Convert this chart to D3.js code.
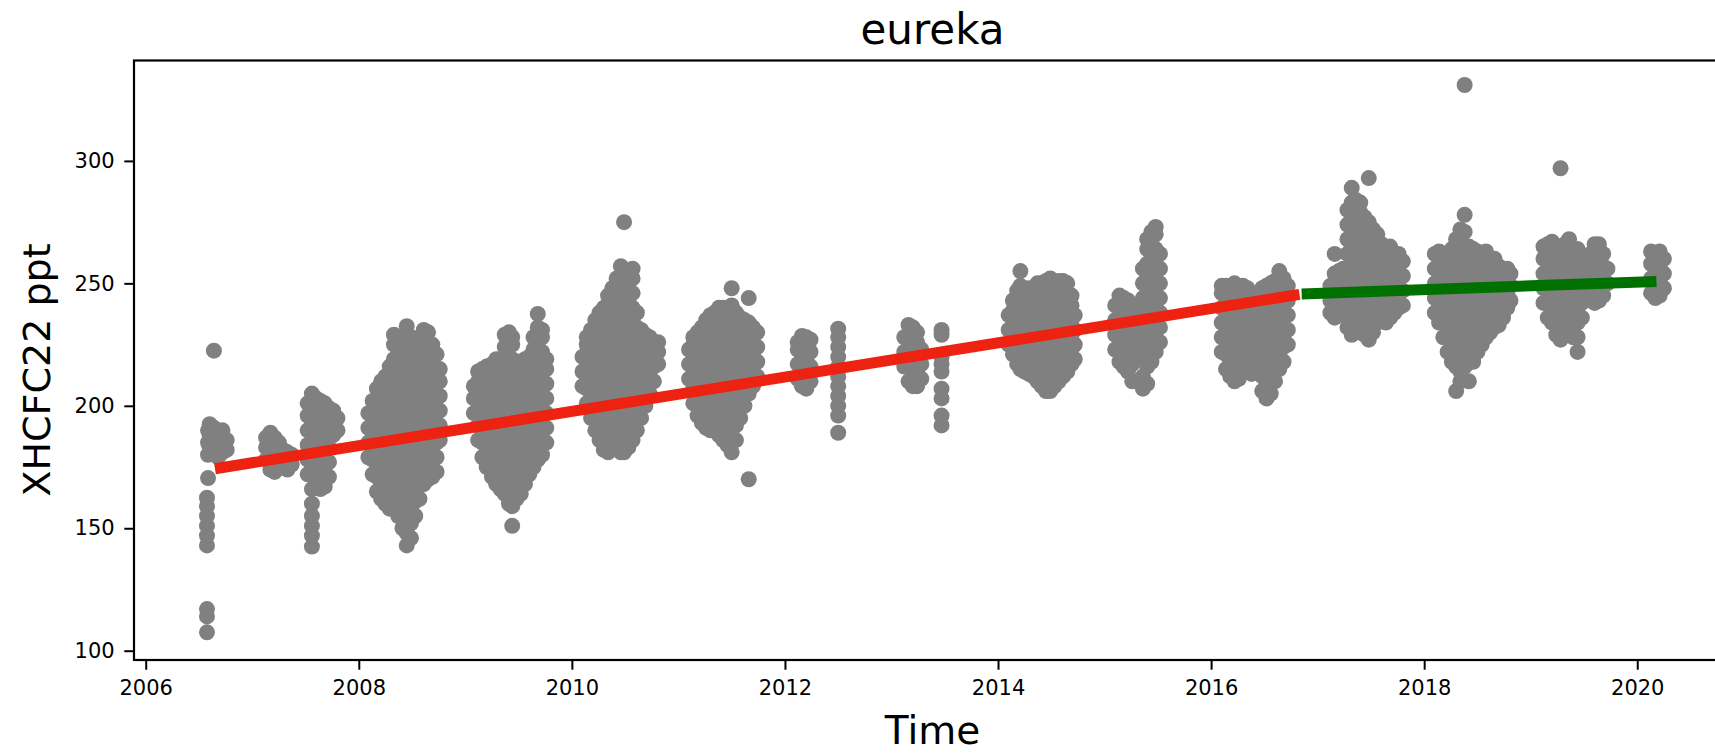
<!DOCTYPE html>
<html>
<head>
<meta charset="utf-8">
<script src="https://cdn.jsdelivr.net/npm/d3@7"></script>
<style>
  body { margin: 0; background: #fff; }
  svg { display: block; }
  text { font-family: "DejaVu Sans", sans-serif; fill: #000; }
</style>
</head>
<body>
<svg id="chart" width="1715" height="754"></svg>
<script>
// XHCFC22 column retrievals at Eureka, grouped by observing season.
// Each entry: [decimal year, [retrieved values in ppt]]
const season2006 = [
  [2006.575, [107.5, 114, 117, 143, 147, 151, 155, 159, 162.5]],
  [2006.585, [170.5, 180, 185, 190]],
  [2006.60, [183, 188, 192.5]],
  [2006.64, [222.5, 181, 186, 191]],
  [2006.68, [179, 184, 188]],
  [2006.72, [181, 186, 190]],
  [2006.76, [182, 186]]
];
const season2007 = [
  [2007.13, [178, 183, 187]],
  [2007.17, [174, 179, 184, 189]],
  [2007.21, [173, 178, 183, 187]],
  [2007.25, [176, 180, 185]],
  [2007.29, [175, 179, 182]],
  [2007.33, [174, 178, 181]],
  [2007.37, [176, 180]],
  [2007.52, [172, 178, 184, 190, 196, 201]],
  [2007.56, [142.5, 147, 151, 155, 160, 166, 172, 178, 184, 190, 196, 202, 205]],
  [2007.60, [168, 174, 180, 186, 192, 198, 203]],
  [2007.64, [166, 172, 178, 184, 190, 196, 202]],
  [2007.68, [167, 173, 179, 185, 191, 197, 201]],
  [2007.72, [171, 177, 183, 189, 195, 199]],
  [2007.76, [188, 193, 198]],
  [2007.80, [190, 195]]
];
const season2008 = [
  [2008.09, [179, 185, 191, 197]],
  [2008.13, [172, 178, 184, 190, 196, 202]],
  [2008.17, [165, 171, 177, 183, 189, 195, 201, 207]],
  [2008.21, [162, 168, 174, 180, 186, 192, 198, 204, 210]],
  [2008.25, [160, 166, 172, 178, 184, 190, 196, 202, 208, 212]],
  [2008.29, [158, 164, 170, 176, 182, 188, 194, 200, 206, 212, 216]],
  [2008.33, [159, 165, 171, 177, 183, 189, 195, 201, 207, 213, 219, 225, 229]],
  [2008.37, [155, 161, 167, 173, 179, 185, 191, 197, 203, 209, 215, 221, 226]],
  [2008.41, [150, 156, 162, 168, 174, 180, 186, 192, 198, 204, 210, 216, 222, 228]],
  [2008.45, [143, 148, 154, 160, 166, 172, 178, 184, 190, 196, 202, 208, 214, 220, 226, 232.5]],
  [2008.49, [146, 152, 158, 164, 170, 176, 182, 188, 194, 200, 206, 212, 218, 224, 228]],
  [2008.53, [155, 161, 167, 173, 179, 185, 191, 197, 203, 209, 215, 221, 225]],
  [2008.57, [162, 168, 174, 180, 186, 192, 198, 204, 210, 216, 222, 228]],
  [2008.61, [168, 174, 180, 186, 192, 198, 204, 210, 216, 222, 228, 231]],
  [2008.65, [170, 176, 182, 188, 194, 200, 206, 212, 218, 224, 230]],
  [2008.69, [171, 177, 183, 189, 195, 201, 207, 213, 219, 225]],
  [2008.73, [173, 179, 185, 191, 197, 203, 209, 215, 221]],
  [2008.76, [186, 192, 198, 204, 210, 215]]
];
const season2009 = [
  [2009.08, [197, 203, 208]],
  [2009.12, [186, 192, 198, 204, 210, 214]],
  [2009.16, [179, 185, 191, 197, 203, 209, 215]],
  [2009.20, [175, 181, 187, 193, 199, 205, 211, 216]],
  [2009.25, [171, 177, 183, 189, 195, 201, 207, 213, 217]],
  [2009.29, [168, 174, 180, 186, 192, 198, 204, 210, 216, 219]],
  [2009.33, [166, 172, 178, 184, 190, 196, 202, 208, 214, 219]],
  [2009.37, [164, 170, 176, 182, 188, 194, 200, 206, 212, 218, 224, 229]],
  [2009.41, [160, 166, 172, 178, 184, 190, 196, 202, 208, 214, 220, 226, 230]],
  [2009.44, [151, 159, 165, 171, 177, 183, 189, 195, 201, 207, 213, 219, 225, 228]],
  [2009.48, [162, 168, 174, 180, 186, 192, 198, 204, 210, 216, 218]],
  [2009.52, [164, 170, 176, 182, 188, 194, 200, 206, 212, 218]],
  [2009.56, [168, 174, 180, 186, 192, 198, 204, 210, 216, 219]],
  [2009.60, [172, 178, 184, 190, 196, 202, 208, 214, 220]],
  [2009.64, [175, 181, 187, 193, 199, 205, 211, 217, 223, 228]],
  [2009.68, [178, 184, 190, 196, 202, 208, 214, 220, 226, 232, 237.5]],
  [2009.72, [180, 186, 192, 198, 204, 210, 216, 222, 228, 231]],
  [2009.76, [185, 191, 197, 203, 209, 215, 219]]
];
const season2010 = [
  [2010.10, [208, 214, 220]],
  [2010.14, [201, 207, 213, 219, 225, 228]],
  [2010.18, [195, 201, 207, 213, 219, 225, 231]],
  [2010.22, [190, 196, 202, 208, 214, 220, 226, 232, 235]],
  [2010.26, [186, 192, 198, 204, 210, 216, 222, 228, 234, 238]],
  [2010.30, [182, 188, 194, 200, 206, 212, 218, 224, 230, 236, 240]],
  [2010.34, [181, 187, 193, 199, 205, 211, 217, 223, 229, 235, 241, 245]],
  [2010.38, [183, 189, 195, 201, 207, 213, 219, 225, 231, 237, 243, 248]],
  [2010.42, [183, 189, 195, 201, 207, 213, 219, 225, 231, 237, 243, 249, 252]],
  [2010.46, [181, 187, 193, 199, 205, 211, 217, 223, 229, 235, 241, 247, 253, 257]],
  [2010.49, [275, 181, 187, 193, 199, 205, 211, 217, 223, 229, 235, 241, 247, 252]],
  [2010.53, [183, 189, 195, 201, 207, 213, 219, 225, 231, 237, 243, 249, 254]],
  [2010.57, [186, 192, 198, 204, 210, 216, 222, 228, 234, 240, 246, 252, 256]],
  [2010.61, [190, 196, 202, 208, 214, 220, 226, 232, 238]],
  [2010.65, [195, 201, 207, 213, 219, 225, 231]],
  [2010.69, [200, 206, 212, 218, 224, 229]],
  [2010.73, [205, 211, 217, 223, 228]],
  [2010.77, [210, 216, 222, 226]],
  [2010.81, [217, 222, 226]]
];
const season2011 = [
  [2011.10, [211, 217, 223]],
  [2011.14, [201, 207, 213, 219, 225, 228]],
  [2011.18, [196, 202, 208, 214, 220, 226, 230]],
  [2011.22, [193, 199, 205, 211, 217, 223, 229, 232]],
  [2011.26, [191, 197, 203, 209, 215, 221, 227, 233, 235]],
  [2011.30, [190, 196, 202, 208, 214, 220, 226, 232, 237]],
  [2011.34, [190, 196, 202, 208, 214, 220, 226, 232, 238]],
  [2011.38, [188, 194, 200, 206, 212, 218, 224, 230, 236, 240]],
  [2011.42, [186, 192, 198, 204, 210, 216, 222, 228, 234, 240]],
  [2011.46, [184, 190, 196, 202, 208, 214, 220, 226, 232, 238]],
  [2011.50, [181, 187, 193, 199, 205, 211, 217, 223, 229, 235, 241, 248]],
  [2011.54, [186, 192, 198, 204, 210, 216, 222, 228, 234, 238]],
  [2011.58, [195, 201, 207, 213, 219, 225, 231, 236]],
  [2011.62, [200, 206, 212, 218, 224, 230, 235]],
  [2011.66, [170, 205, 211, 217, 223, 229, 234, 244]],
  [2011.70, [208, 214, 220, 226, 232]],
  [2011.74, [212, 218, 224, 230]]
];
const season2012 = [
  [2012.12, [211, 217, 223, 226]],
  [2012.16, [208, 214, 220, 226, 228.5]],
  [2012.20, [207, 213, 219, 225, 228]],
  [2012.24, [210, 216, 222, 227]],
  [2012.50, [189, 196, 200, 204, 208, 212, 216, 220, 224, 228, 231.5]]
];
const season2013 = [
  [2013.12, [216, 222, 228]],
  [2013.16, [210, 216, 222, 228, 233]],
  [2013.20, [208, 214, 220, 226, 232]],
  [2013.24, [208, 214, 220, 226, 230]],
  [2013.28, [211, 217, 223]],
  [2013.47, [192, 196, 203, 207, 214, 217, 220, 229, 231]]
];
const season2014 = [
  [2014.10, [225, 231, 237]],
  [2014.14, [221, 227, 233, 239, 243]],
  [2014.18, [217, 223, 229, 235, 241, 247]],
  [2014.21, [215, 221, 227, 233, 239, 245, 249, 255]],
  [2014.25, [214, 220, 226, 232, 238, 244, 247]],
  [2014.29, [213, 219, 225, 231, 237, 243, 248]],
  [2014.33, [212, 218, 224, 230, 236, 242, 248]],
  [2014.37, [210, 216, 222, 228, 234, 240, 246, 250]],
  [2014.41, [208, 214, 220, 226, 232, 238, 244, 250]],
  [2014.45, [206, 212, 218, 224, 230, 236, 242, 248, 251]],
  [2014.49, [206, 212, 218, 224, 230, 236, 242, 248, 252]],
  [2014.53, [208, 214, 220, 226, 232, 238, 244, 250]],
  [2014.57, [210, 216, 222, 228, 234, 240, 246, 251]],
  [2014.61, [212, 218, 224, 230, 236, 242, 248, 251]],
  [2014.65, [214, 220, 226, 232, 238, 244, 250]],
  [2014.69, [217, 223, 229, 235, 241, 245]],
  [2014.72, [219, 225, 231, 237]]
];
const season2015 = [
  [2015.10, [223, 229, 235, 241]],
  [2015.14, [218, 224, 230, 236, 242, 245]],
  [2015.18, [216, 222, 228, 234, 240, 244]],
  [2015.22, [214, 220, 226, 232, 238, 243]],
  [2015.26, [210, 217, 223, 229, 235, 241]],
  [2015.30, [219, 225, 231, 237, 241]],
  [2015.36, [207, 212, 220, 226, 232, 238, 244, 250, 256]],
  [2015.40, [209, 216, 222, 228, 234, 240, 246, 252, 258, 264, 268]],
  [2015.44, [218, 224, 230, 236, 242, 248, 254, 260, 266, 271]],
  [2015.48, [222, 228, 234, 240, 246, 252, 258, 264, 270, 273]],
  [2015.52, [226, 232, 238, 244, 250, 256, 262]]
];
const season2016 = [
  [2016.10, [222, 228, 234, 240, 246, 249]],
  [2016.14, [215, 221, 227, 233, 239, 245, 249]],
  [2016.18, [212, 218, 224, 230, 236, 242, 248]],
  [2016.22, [210, 216, 222, 228, 234, 240, 246, 250]],
  [2016.26, [211, 217, 223, 229, 235, 241, 247]],
  [2016.30, [214, 220, 226, 232, 238, 244, 249]],
  [2016.34, [218, 224, 230, 236, 242, 248]],
  [2016.38, [213, 219, 225, 231, 237, 243]],
  [2016.44, [215, 221, 227, 233, 239, 245]],
  [2016.48, [206, 212, 218, 224, 230, 236, 242, 248]],
  [2016.52, [203, 209, 215, 221, 227, 233, 239, 245, 249]],
  [2016.56, [205, 211, 217, 223, 229, 235, 241, 247, 250]],
  [2016.60, [210, 216, 222, 228, 234, 240, 246, 251]],
  [2016.64, [215, 221, 227, 233, 239, 245, 251, 255]],
  [2016.68, [218, 224, 230, 236, 242, 248, 252]],
  [2016.72, [225, 231, 237, 243, 249]]
];
const season2017 = [
  [2017.12, [238, 243, 249]],
  [2017.16, [236, 242, 248, 254, 262]],
  [2017.20, [237, 243, 249, 255]],
  [2017.24, [238, 244, 250, 256]],
  [2017.28, [232, 238, 244, 250, 256, 262, 268, 274, 280]],
  [2017.32, [229, 235, 241, 247, 253, 259, 265, 271, 277, 283, 289]],
  [2017.36, [230, 236, 242, 248, 254, 260, 266, 272, 278, 284]],
  [2017.40, [231, 237, 243, 249, 255, 261, 267, 273, 279, 283]],
  [2017.44, [229, 235, 241, 247, 253, 259, 265, 271, 277]],
  [2017.48, [227, 233, 239, 245, 251, 257, 263, 269, 275, 293]],
  [2017.52, [230, 236, 242, 248, 254, 260, 266, 272]],
  [2017.56, [234, 240, 246, 252, 258, 264, 270]],
  [2017.60, [236, 242, 248, 254, 260, 266]],
  [2017.64, [234, 240, 246, 252, 258, 264]],
  [2017.68, [236, 242, 248, 254, 260, 265]],
  [2017.72, [238, 244, 250, 256, 262]],
  [2017.76, [240, 246, 252, 258, 262]],
  [2017.80, [241, 247, 253, 259]]
];
const season2018 = [
  [2018.10, [238, 244, 250, 256, 262]],
  [2018.14, [234, 240, 246, 252, 258, 263]],
  [2018.18, [228, 234, 240, 246, 252, 258, 261]],
  [2018.22, [222, 228, 234, 240, 246, 252, 258, 262]],
  [2018.26, [218, 224, 230, 236, 242, 248, 254, 260, 264]],
  [2018.30, [206, 216, 222, 228, 234, 240, 246, 252, 258, 264, 268]],
  [2018.34, [210, 214, 220, 226, 232, 238, 244, 250, 256, 262, 268, 272]],
  [2018.38, [216, 222, 228, 234, 240, 246, 252, 258, 264, 271, 278, 331]],
  [2018.42, [210, 218, 224, 230, 236, 242, 248, 254, 260, 265]],
  [2018.46, [218, 224, 230, 236, 242, 248, 254, 260, 264]],
  [2018.50, [222, 228, 234, 240, 246, 252, 258, 263]],
  [2018.54, [225, 231, 237, 243, 249, 255, 261]],
  [2018.58, [228, 234, 240, 246, 252, 258, 263]],
  [2018.62, [230, 236, 242, 248, 254, 260]],
  [2018.66, [232, 238, 244, 250, 256, 260]],
  [2018.70, [233, 239, 245, 251, 257]],
  [2018.74, [236, 242, 248, 254]],
  [2018.78, [240, 246, 252, 256]],
  [2018.81, [243, 249, 254]]
];
const season2019 = [
  [2019.12, [242, 248, 254, 260, 265]],
  [2019.16, [236, 242, 248, 254, 260, 266]],
  [2019.20, [234, 240, 246, 252, 258, 264, 267]],
  [2019.24, [229, 235, 241, 247, 253, 259, 265]],
  [2019.28, [227, 233, 239, 245, 251, 257, 263, 297]],
  [2019.32, [230, 236, 242, 248, 254, 260, 266]],
  [2019.36, [232, 238, 244, 250, 256, 262, 268]],
  [2019.40, [228, 234, 240, 246, 252, 258, 264]],
  [2019.44, [222, 228, 234, 240, 246, 252, 258, 264]],
  [2019.48, [236, 242, 248, 254, 260]],
  [2019.56, [244, 250, 256, 262]],
  [2019.60, [242, 248, 254, 260, 266]],
  [2019.64, [243, 249, 255, 261, 266]],
  [2019.68, [245, 251, 257, 262]],
  [2019.72, [250, 256]]
];
const season2020 = [
  [2020.13, [246, 252, 258, 263]],
  [2020.17, [244, 250, 256, 262]],
  [2020.21, [245, 251, 257, 263]],
  [2020.25, [248, 254, 260]]
];

// Linear trends fitted before and after late 2016
const trendEarly = [[2006.65, 174.3], [2016.83, 245.5]];
const trendLate  = [[2016.85, 245.7], [2020.18, 250.8]];

const xTicks = [2006, 2008, 2010, 2012, 2014, 2016, 2018, 2020];
const yTicks = [100, 150, 200, 250, 300];

const seasons = [season2006, season2007, season2008, season2009, season2010,
  season2011, season2012, season2013, season2014, season2015, season2016,
  season2017, season2018, season2019, season2020];

const points = [];
seasons.forEach(s => s.forEach(([t, vals]) => vals.forEach(v => points.push([t, v]))));

const svg = d3.select("#chart");
const plot = { left: 134, top: 60.5, right: 1731, bottom: 660 };

const x = d3.scaleLinear().domain([2005.89, 2020.88]).range([plot.left, plot.right]);
const y = d3.scaleLinear().domain([96.2, 341]).range([plot.bottom, plot.top]);

svg.append("defs").append("clipPath").attr("id", "plotclip")
  .append("rect")
  .attr("x", plot.left).attr("y", plot.top)
  .attr("width", plot.right - plot.left).attr("height", plot.bottom - plot.top);

const marks = svg.append("g").attr("clip-path", "url(#plotclip)");

marks.selectAll("circle.obs")
  .data(points)
  .join("circle")
  .attr("class", "obs")
  .attr("cx", d => x(d[0]))
  .attr("cy", d => y(d[1]))
  .attr("r", 8)
  .attr("fill", "#808080");

const line = d3.line().x(d => x(d[0])).y(d => y(d[1]));
marks.append("path").datum(trendEarly).attr("d", line)
  .attr("fill", "none").attr("stroke", "#ee2210").attr("stroke-width", 11).attr("stroke-linecap", "butt");
marks.append("path").datum(trendLate).attr("d", line)
  .attr("fill", "none").attr("stroke", "#007000").attr("stroke-width", 11).attr("stroke-linecap", "butt");

// Axes
const xAxis = d3.axisBottom(x).tickValues(xTicks).tickFormat(d3.format("d"))
  .tickSizeInner(9.7).tickSizeOuter(0).tickPadding(10);
const gx = svg.append("g").attr("transform", `translate(0,${plot.bottom})`).call(xAxis);
gx.select(".domain").remove();
gx.selectAll(".tick line").attr("stroke", "#000").attr("stroke-width", 2);
gx.selectAll(".tick text").attr("font-size", 21).attr("font-family", "DejaVu Sans").attr("fill", "#000");

const yAxis = d3.axisLeft(y).tickValues(yTicks).tickFormat(d3.format("d"))
  .tickSizeInner(9.7).tickSizeOuter(0).tickPadding(9.7);
const gy = svg.append("g").attr("transform", `translate(${plot.left},0)`).call(yAxis);
gy.select(".domain").remove();
gy.selectAll(".tick line").attr("stroke", "#000").attr("stroke-width", 2);
gy.selectAll(".tick text").attr("font-size", 21).attr("font-family", "DejaVu Sans").attr("fill", "#000");

// Frame
svg.append("rect")
  .attr("x", plot.left).attr("y", plot.top)
  .attr("width", plot.right - plot.left).attr("height", plot.bottom - plot.top)
  .attr("fill", "none").attr("stroke", "#000").attr("stroke-width", 2.2);

// Titles
svg.append("text")
  .attr("x", (plot.left + plot.right) / 2).attr("y", 43.8)
  .attr("text-anchor", "middle").attr("font-size", 42)
  .text("eureka");

svg.append("text")
  .attr("x", (plot.left + plot.right) / 2).attr("y", 744)
  .attr("text-anchor", "middle").attr("font-size", 39)
  .text("Time");

svg.append("text")
  .attr("transform", `translate(50,370) rotate(-90)`)
  .attr("text-anchor", "middle").attr("font-size", 38)
  .text("XHCFC22 ppt");
</script>
</body>
</html>
